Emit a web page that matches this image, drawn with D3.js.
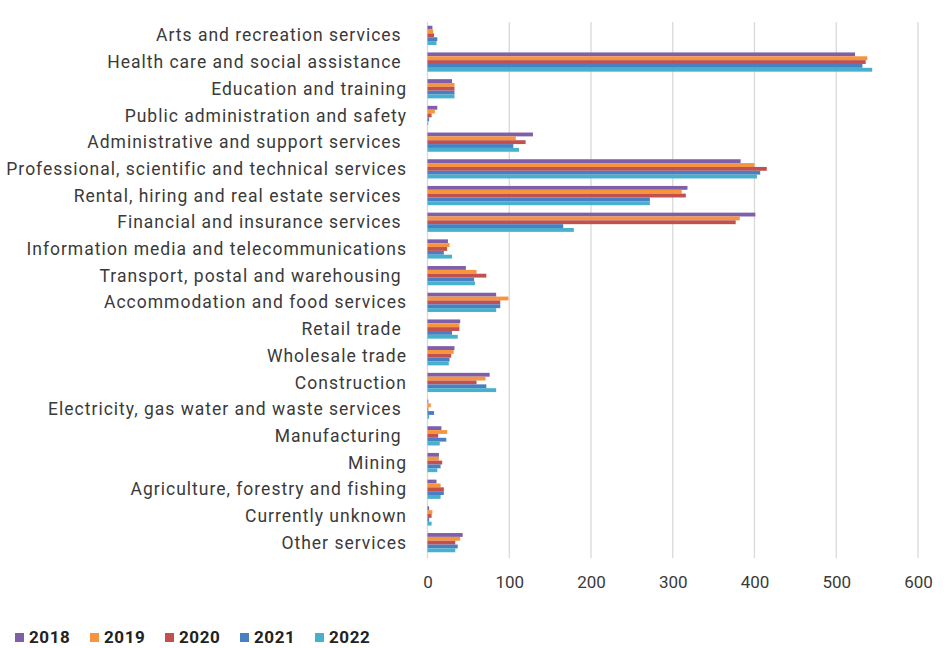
<!DOCTYPE html>
<html>
<head>
<meta charset="utf-8">
<script src="https://cdn.jsdelivr.net/npm/d3@7"></script>
<style>
  html, body { margin: 0; padding: 0; background: #fff; }
  svg text { font-family: Roboto, "Noto Sans", sans-serif; }
</style>
</head>
<body>
<div id="chart"></div>
<script>
// Industry categories, top to bottom (trailing spaces kept as labelled)
const categories = [
  "Arts and recreation services ",
  "Health care and social assistance ",
  "Education and training",
  "Public administration and safety",
  "Administrative and support services ",
  "Professional, scientific and technical services",
  "Rental, hiring and real estate services ",
  "Financial and insurance services ",
  "Information media and telecommunications",
  "Transport, postal and warehousing ",
  "Accommodation and food services",
  "Retail trade ",
  "Wholesale trade",
  "Construction",
  "Electricity, gas water and waste services ",
  "Manufacturing ",
  "Mining",
  "Agriculture, forestry and fishing",
  "Currently unknown",
  "Other services"
];

const years = ["2018", "2019", "2020", "2021", "2022"];

// Values per year, in category order
const v2018 = [6, 523, 30, 12, 129, 383, 318, 401, 25, 47, 84, 40, 33, 76, 1, 17, 14, 11, 2, 43];
const v2019 = [7, 538, 33, 9, 108, 400, 311, 382, 27, 60, 99, 39, 32, 71, 4, 24, 14, 16, 6, 40];
const v2020 = [8, 536, 33, 5, 120, 415, 316, 377, 24, 72, 89, 39, 29, 60, 1, 13, 18, 20, 5, 34];
const v2021 = [12, 532, 33, 2, 105, 407, 272, 166, 20, 57, 89, 30, 27, 72, 8, 23, 16, 20, 2, 37];
const v2022 = [11, 544, 33, 1, 112, 403, 272, 179, 30, 58, 84, 37, 26, 84, 2, 15, 12, 16, 5, 34];

const yearColors = ["#7f5fa8", "#f7953f", "#c2504f", "#4a80c2", "#47b0cc"];

const xTicks = [0, 100, 200, 300, 400, 500, 600];

const series = [v2018, v2019, v2020, v2021, v2022];

const W = 950, H = 648;
const margin = { left: 427.5, right: 32, top: 22, bottom: 92 };

const svg = d3.select("#chart").append("svg")
  .attr("width", W).attr("height", H);

const x = d3.scaleLinear().domain([0, 600]).range([margin.left, W - margin.right]);
const y = d3.scaleBand().domain(categories).range([margin.top, H - margin.bottom]).paddingInner(0.28).paddingOuter(0.14);
const yInner = d3.scaleBand().domain(years).range([0, y.bandwidth()]);

// vertical gridlines
svg.append("g").selectAll("line").data(xTicks).join("line")
  .attr("x1", d => x(d)).attr("x2", d => x(d))
  .attr("y1", margin.top).attr("y2", H - margin.bottom + 2)
  .attr("stroke", "#d9d9d9").attr("stroke-width", 1.3);

// bars
const groups = svg.append("g").selectAll("g").data(categories).join("g")
  .attr("transform", d => `translate(0,${y(d)})`);

groups.selectAll("rect")
  .data((c, i) => years.map((yr, k) => ({ yr, k, v: series[k][i] })))
  .join("rect")
  .attr("x", x(0))
  .attr("y", d => yInner(d.yr))
  .attr("width", d => x(d.v) - x(0))
  .attr("height", yInner.bandwidth())
  .attr("fill", d => yearColors[d.k]);

// category labels
svg.append("g").selectAll("text").data(categories).join("text")
  .attr("x", 407)
  .attr("y", d => y(d) + y.bandwidth() / 2)
  .attr("dy", "0.35em")
  .attr("text-anchor", "end")
  .style("white-space", "pre")
  .attr("font-size", 17.5)
  .attr("letter-spacing", 1.0)
  .attr("fill", "#3a3a3a")
  .text(d => d);

// x axis labels
const xAxis = d3.axisBottom(x).tickValues(xTicks).tickSize(0).tickPadding(0);
const gx = svg.append("g").attr("transform", `translate(0,${H - margin.bottom + 20})`).call(xAxis);
gx.select(".domain").remove();
gx.selectAll("text").attr("font-size", 17).attr("fill", "#3a3a3a")
  .style("font-family", "Roboto, sans-serif");

// legend
const legend = svg.append("g").attr("transform", "translate(15,637)");
const item = legend.selectAll("g").data(years).join("g")
  .attr("transform", (d, i) => `translate(${i * 75},0)`);
item.append("rect").attr("x", 0).attr("y", -4).attr("width", 9).attr("height", 9)
  .attr("fill", (d, i) => yearColors[i]);
item.append("text").attr("x", 14).attr("y", 0).attr("dy", "0.36em")
  .attr("font-size", 17).attr("font-weight", "bold").attr("letter-spacing", 0.6).attr("fill", "#222")
  .text(d => d);
</script>
</body>
</html>
